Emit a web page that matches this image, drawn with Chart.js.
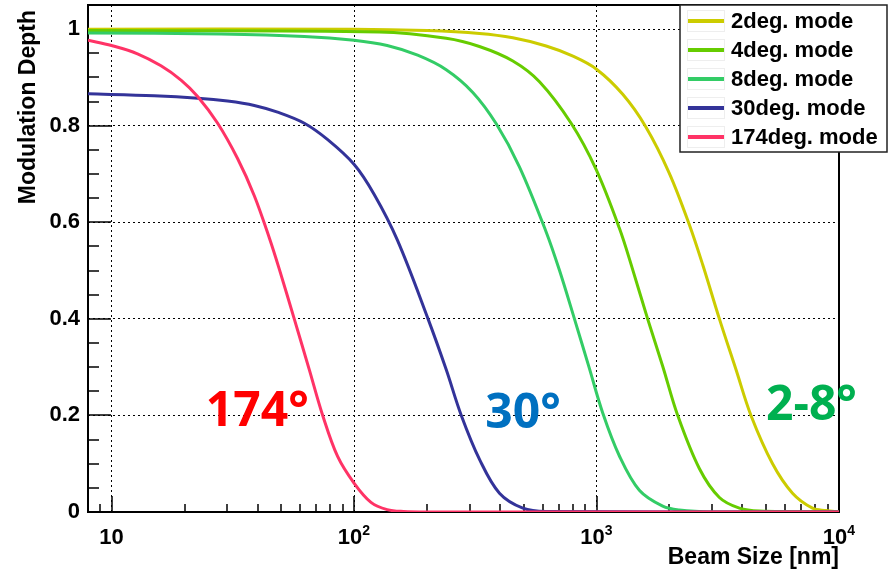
<!DOCTYPE html>
<html lang="en">
<head>
<meta charset="utf-8">
<title>Modulation Depth vs Beam Size</title>
<script src="https://cdn.jsdelivr.net/npm/chart.js@4.4.0/dist/chart.umd.min.js"></script>
<style>
  html, body { margin: 0; padding: 0; background: #fff; }
  #wrap { width: 891px; height: 571px; }
</style>
</head>
<body>
<div id="wrap"><canvas id="chart" width="891" height="571"></canvas></div>
<script>
// values: beam size [nm] and modulation depth
const deg2X = [8, 100, 200, 329, 452, 620, 800, 1000, 1283, 1600, 1995, 2415, 2742, 3212, 3760, 4335, 5322, 6432, 7778, 8830, 10000];
const deg2Y = [1.0, 1.0, 0.997, 0.991, 0.982, 0.965, 0.944, 0.917, 0.865, 0.797, 0.702, 0.595, 0.512, 0.40, 0.295, 0.20, 0.10, 0.039, 0.008, 0.003, 0];

const deg4X = [8, 127, 240, 329, 452, 582, 786, 995, 1242, 1410, 1625, 1875, 2162, 2655, 3212, 3883, 4700, 10000];
const deg4Y = [0.997, 0.994, 0.981, 0.964, 0.934, 0.891, 0.805, 0.71, 0.588, 0.502, 0.40, 0.302, 0.20, 0.09, 0.03, 0.008, 0.002, 0];

const deg8X = [8, 28.3, 62.4, 100, 137, 183, 240, 309, 386, 481, 620, 703, 811, 934, 1061, 1243, 1502, 1875, 2195, 3000, 10000];
const deg8Y = [0.992, 0.99, 0.985, 0.977, 0.966, 0.946, 0.916, 0.869, 0.804, 0.715, 0.58, 0.501, 0.40, 0.298, 0.205, 0.116, 0.045, 0.012, 0.004, 0, 0];

const deg30X = [8, 15, 22.7, 30.1, 38.8, 48.4, 62.4, 77.9, 100, 121, 151, 202, 240, 277, 330, 398, 497, 620, 10000];
const deg30Y = [0.866, 0.862, 0.857, 0.851, 0.842, 0.828, 0.805, 0.771, 0.72, 0.658, 0.563, 0.40, 0.295, 0.20, 0.108, 0.039, 0.008, 0.001, 0];

const deg174X = [8, 10, 12.8, 16, 19.4, 22.7, 27.4, 33.1, 38.8, 44.8, 49.2, 56.7, 65.4, 74.3, 85.6, 100, 117.5, 137, 160, 200, 10000];
const deg174Y = [0.977, 0.966, 0.949, 0.924, 0.894, 0.860, 0.805, 0.732, 0.655, 0.567, 0.503, 0.40, 0.295, 0.20, 0.115, 0.06, 0.02, 0.005, 0.001, 0, 0];

const modeNames = ['2deg. mode', '4deg. mode', '8deg. mode', '30deg. mode', '174deg. mode'];
const lineColors = ['#cccc00', '#66cc00', '#33cc66', '#333399', '#ff3366'];

const xTicks = [10, 100, 1000, 10000];
const xTickExp = ['', '2', '3', '4'];
const yTicks = [0, 0.2, 0.4, 0.6, 0.8, 1];
const yTickLabels = ['0', '0.2', '0.4', '0.6', '0.8', '1'];

const noteTexts = ['174°', '30°', '2-8°'];
const noteX = [24.5, 348, 5000];
const noteY = [0.178, 0.174, 0.191];
const noteColors = ['#ff0000', '#0070c0', '#00b050'];

const seriesX = [deg2X, deg4X, deg8X, deg30X, deg174X];
const seriesY = [deg2Y, deg4Y, deg8Y, deg30Y, deg174Y];

const datasets = modeNames.map((name, i) => ({
  label: name,
  data: seriesX[i].map((x, j) => ({ x: x, y: seriesY[i][j] })),
  borderColor: lineColors[i],
  order: modeNames.length - 1 - i
}));

const FONT = "'Liberation Sans', Arial, sans-serif";
Chart.defaults.font.family = FONT;
Chart.defaults.color = '#000';

// box, inward ticks like the original ROOT canvas
const frame = {
  id: 'frame',
  beforeDatasetsDraw(chart) {
    const { ctx, chartArea: a, scales: { x, y } } = chart;
    ctx.save();
    ctx.strokeStyle = '#000';
    ctx.lineWidth = 1.5;
    ctx.beginPath();
    for (let d = 1; d <= 1000; d *= 10) {
      for (let k = 1; k <= 9; k++) {
        const v = k * d;
        if (v <= x.min || v >= x.max) continue;
        const px = Math.round(x.getPixelForValue(v));
        const len = k === 1 ? 16 : 8;
        ctx.moveTo(px, a.bottom);
        ctx.lineTo(px, a.bottom - len);
      }
    }
    for (let i = 1; i < 21; i++) {
      const py = Math.round(y.getPixelForValue(i * 0.05));
      const len = i % 4 === 0 ? 23 : 11;
      ctx.moveTo(a.left, py);
      ctx.lineTo(a.left + len, py);
    }
    ctx.stroke();
    ctx.lineWidth = 2;
    ctx.strokeRect(a.left, a.top, a.right - a.left, a.bottom - a.top);
    ctx.restore();
  }
};

// x labels as 10 with a raised exponent
const powerLabels = {
  id: 'powerLabels',
  afterDraw(chart) {
    const { ctx, scales: { x } } = chart;
    ctx.save();
    ctx.fillStyle = '#000';
    ctx.textAlign = 'left';
    ctx.textBaseline = 'alphabetic';
    xTicks.forEach((v, i) => {
      const px = x.getPixelForValue(v);
      ctx.font = 'bold 22px ' + FONT;
      const wb = ctx.measureText('10').width;
      ctx.font = 'bold 14px ' + FONT;
      const ws = xTickExp[i] ? ctx.measureText(xTickExp[i]).width : 0;
      const x0 = px - (wb + ws) / 2;
      ctx.font = 'bold 22px ' + FONT;
      ctx.fillText('10', x0, 544);
      if (xTickExp[i]) {
        ctx.font = 'bold 14px ' + FONT;
        ctx.fillText(xTickExp[i], x0 + wb, 535);
      }
    });
    ctx.restore();
  }
};

const titles = {
  id: 'titles',
  afterDraw(chart) {
    const { ctx, chartArea: a } = chart;
    ctx.save();
    ctx.fillStyle = '#000';
    ctx.font = 'bold 23px ' + FONT;
    ctx.textAlign = 'right';
    ctx.textBaseline = 'alphabetic';
    ctx.fillText('Beam Size [nm]', a.right, 564);
    ctx.translate(35, 10);
    ctx.rotate(-Math.PI / 2);
    ctx.fillText('Modulation Depth', 0, 0);
    ctx.restore();
  }
};

const notes = {
  id: 'notes',
  afterDatasetsDraw(chart) {
    const { ctx, scales: { x, y } } = chart;
    ctx.save();
    ctx.font = "bold 48px 'Open Sans', sans-serif";
    ctx.textAlign = 'left';
    ctx.textBaseline = 'alphabetic';
    noteTexts.forEach((t, i) => {
      ctx.fillStyle = noteColors[i];
      ctx.fillText(t, x.getPixelForValue(noteX[i]), y.getPixelForValue(noteY[i]));
    });
    ctx.restore();
  }
};

const boxLegend = {
  id: 'boxLegend',
  afterDraw(chart) {
    const { ctx } = chart;
    const left = 680, top = 5, w = 207, h = 147, row = 29;
    ctx.save();
    ctx.fillStyle = '#fff';
    ctx.fillRect(left, top, w, h);
    ctx.strokeStyle = '#222';
    ctx.lineWidth = 1.5;
    ctx.strokeRect(left, top, w, h);
    ctx.font = 'bold 22px ' + FONT;
    ctx.textBaseline = 'middle';
    ctx.textAlign = 'left';
    chart.data.datasets.forEach((ds, i) => {
      const cy = top + 16 + i * row;
      ctx.strokeStyle = '#eeeeee';
      ctx.lineWidth = 1;
      ctx.strokeRect(687.5, cy - 10.5, 37, 21);
      ctx.strokeStyle = ds.borderColor;
      ctx.lineWidth = 4;
      ctx.beginPath();
      ctx.moveTo(688, cy);
      ctx.lineTo(724, cy);
      ctx.stroke();
      ctx.fillStyle = '#000';
      ctx.fillText(ds.label, 731, cy + 1);
    });
    ctx.restore();
  }
};

new Chart(document.getElementById('chart'), {
  type: 'line',
  data: { datasets: datasets },
  options: {
    responsive: false,
    animation: false,
    layout: { padding: { top: 5, right: 52, left: 0, bottom: 0 } },
    plugins: { legend: { display: false }, tooltip: { enabled: false } },
    elements: {
      point: { radius: 0 },
      line: { borderWidth: 3, tension: 0.35 }
    },
    scales: {
      x: {
        type: 'logarithmic',
        min: 8,
        max: 10000,
        afterBuildTicks: s => { s.ticks = xTicks.map(v => ({ value: v })); },
        afterFit: s => { s.height = 59; s.paddingLeft = 0; s.paddingRight = 0; },
        grid: { color: '#000', lineWidth: 1, drawTicks: false },
        border: { display: false, dash: [2, 3] },
        ticks: { display: false }
      },
      y: {
        type: 'linear',
        min: 0,
        max: 1.05,
        afterBuildTicks: s => { s.ticks = yTicks.map(v => ({ value: v })); },
        afterFit: s => { s.width = 88; s.paddingTop = 0; s.paddingBottom = 0; },
        grid: { color: '#000', lineWidth: 1, drawTicks: false },
        border: { display: false, dash: [2, 3] },
        ticks: {
          padding: 8,
          font: { size: 22, weight: 'bold' },
          callback: (v, i) => yTickLabels[i]
        }
      }
    }
  },
  plugins: [frame, powerLabels, titles, notes, boxLegend]
});
</script>
</body>
</html>
